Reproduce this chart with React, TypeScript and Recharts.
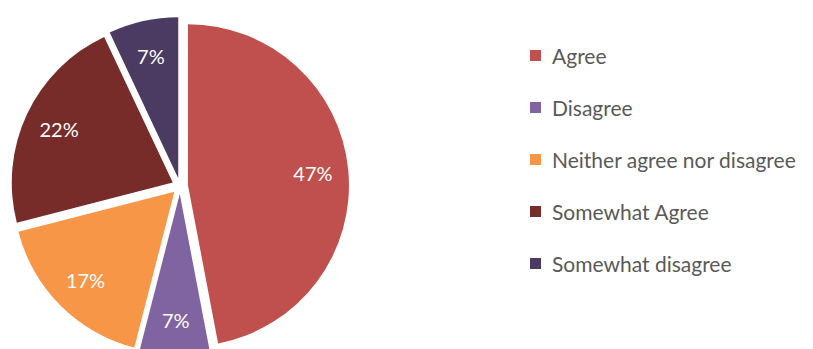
import { PieChart, Pie, Legend, Sector } from 'recharts'

const categories = [
  'Agree',
  'Disagree',
  'Neither agree nor disagree',
  'Somewhat Agree',
  'Somewhat disagree'
]
const shares = [47, 7, 17, 22, 7]
const colors = ['#C0504D', '#8064A2', '#F79646', '#772C2A', '#4B3A62']

const data = categories.map((name, i) => ({ name, value: shares[i] }))

const RAD = Math.PI / 180
const EXPLODE = 8

// draws each slice pushed out along its mid angle, plus the percent label
const renderSlice = (props: any) => {
  const { cx, cy, midAngle, outerRadius, startAngle, endAngle, percent, index } = props
  const dx = EXPLODE * Math.cos(-midAngle * RAD)
  const dy = EXPLODE * Math.sin(-midAngle * RAD)
  const r = outerRadius * 0.78
  const tx = cx + dx + r * Math.cos(-midAngle * RAD)
  const ty = cy + dy + r * Math.sin(-midAngle * RAD)
  return (
    <g>
      <Sector
        cx={cx + dx}
        cy={cy + dy}
        innerRadius={0}
        outerRadius={outerRadius}
        startAngle={startAngle}
        endAngle={endAngle}
        fill={colors[index]}
        stroke="none"
      />
      <text
        x={tx}
        y={ty}
        fill="#ffffff"
        textAnchor="middle"
        dominantBaseline="central"
        fontSize={20}
        fontFamily="Lato, sans-serif"
      >
        {`${Math.round(percent * 100)}%`}
      </text>
    </g>
  )
}

const renderLegend = () => (
  <div style={{ fontFamily: 'Lato, sans-serif', fontSize: 21, color: '#595959' }}>
    {categories.map((name, i) => (
      <div
        key={name}
        style={{ display: 'flex', alignItems: 'center', height: 52, whiteSpace: 'nowrap' }}
      >
        <span
          style={{
            width: 11,
            height: 11,
            background: colors[i],
            display: 'inline-block',
            marginRight: 11
          }}
        />
        {name}
      </div>
    ))}
  </div>
)

export default function App() {
  return (
    <div style={{ position: 'absolute', left: 0, top: 0, background: '#fff' }}>
      <PieChart width={813} height={349} margin={{ top: 0, right: 0, bottom: 0, left: 0 }}>
        <Pie
          data={data}
          dataKey="value"
          nameKey="name"
          cx={180}
          cy={186}
          outerRadius={161}
          startAngle={90}
          endAngle={-270}
          fill="transparent"
          stroke="none"
          labelLine={false}
          label={renderSlice}
          isAnimationActive={false}
        />
        <Legend
          content={renderLegend}
          wrapperStyle={{ position: 'absolute', left: 530, top: 29, width: 300, height: 260 }}
        />
      </PieChart>
    </div>
  )
}
